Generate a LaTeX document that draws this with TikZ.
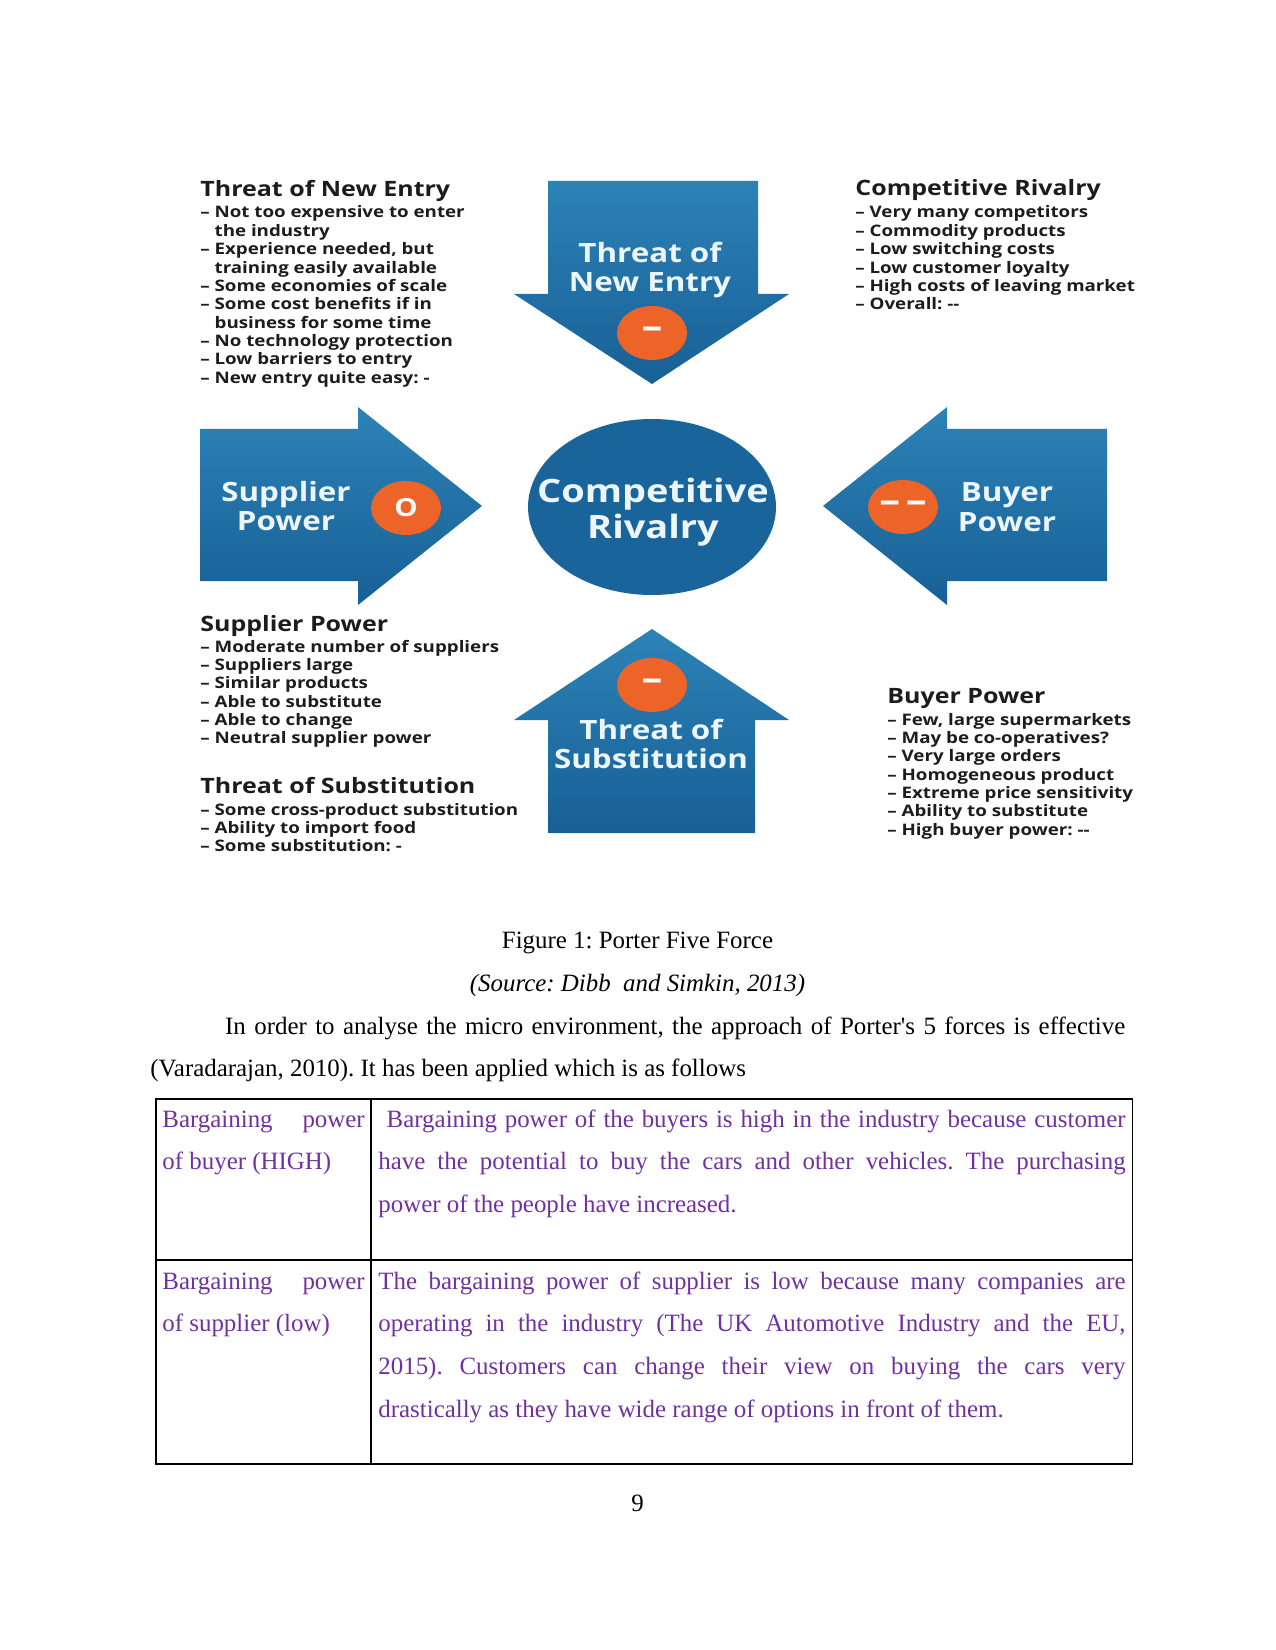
\documentclass[tikz,border=0pt]{standalone}
\usepackage{fontspec}
\setmainfont{Liberation Serif}
\newfontfamily\forcefont{Open Sans}[FakeStretch=1.18]
\usetikzlibrary{shapes.geometric,positioning}

\definecolor{arrowtop}{RGB}{44,130,182}
\definecolor{arrowbot}{RGB}{24,96,150}
\definecolor{rivalblue}{RGB}{26,100,156}
\definecolor{arrowtext}{RGB}{236,245,250}
\definecolor{badgeorange}{RGB}{236,100,40}
\definecolor{listgray}{RGB}{28,28,28}
\definecolor{cellpurple}{RGB}{112,48,160}

\newcommand{\forcelist}[1]{\begin{tabular}[t]{@{}l@{}}#1\end{tabular}}
\newcommand{\aposglyph}{\XeTeXglyph\XeTeXcharglyph"27\relax}

\begin{document}
\frenchspacing
\begin{tikzpicture}[x=0.4818pt,y=-0.4818pt,
    every node/.style={inner sep=0pt},
    forcearrow/.style={top color=arrowtop,bottom color=arrowbot,draw=none},
    arrowlabel/.style={font=\forcefont\bfseries\fontsize{12.8}{14.2}\selectfont,text=arrowtext,align=center},
    badge/.style={ellipse,fill=badgeorange,minimum width=33.7pt,minimum height=26pt,text=white,font=\forcefont\bfseries\fontsize{12}{12}\selectfont},
    dashbadge/.style={badge,font=\forcefont\bfseries\fontsize{17}{17}\selectfont},
    rival/.style={text=arrowtext,align=center,font=\forcefont\bfseries\fontsize{15.5}{17.3}\selectfont},
    listhead/.style={anchor=base west,text=listgray,font=\forcefont\bfseries\fontsize{10.2}{12}\selectfont},
    listbody/.style={anchor=base west,text=listgray,font=\forcefont\bfseries\fontsize{7.65}{8.85}\selectfont},
    pagetext/.style={anchor=base,font=\fontsize{12}{20.7}\selectfont},
    celltext/.style={anchor=base west,text=cellpurple,font=\fontsize{12}{20.7}\selectfont},
]
\useasboundingbox (0,0) rectangle (1275,1650);

% the five forces
\path[forcearrow] (548,181) -- (758,181) -- (758,294) -- (789,294) -- (652,384) -- (514,294) -- (548,294) -- cycle;
\path[forcearrow] (548,833) -- (755,833) -- (755,720) -- (789,720) -- (652,629) -- (514,720) -- (548,720) -- cycle;
\path[forcearrow] (200,429) -- (358,429) -- (358,407) -- (482,506) -- (358,605) -- (358,581) -- (200,581) -- cycle;
\path[forcearrow] (1107,429) -- (947,429) -- (947,407) -- (823,506) -- (947,605) -- (947,581) -- (1107,581) -- cycle;
\fill[rivalblue] (652,507) ellipse [x radius=124, y radius=88];

\node[rival] (rival) at (653,512) {Competitive\\Rivalry};
\node[arrowlabel] (entry) at (650,270) {Threat of\\New Entry};
\node[arrowlabel] (subst) at (651,744) {Threat of\\Substitution};
\node[arrowlabel] (supplier) at (286,506) {Supplier\\Power};
\node[arrowlabel] (buyer) at (1007,507) {Buyer\\Power};

\node[dashbadge] (entrybadge) at (652,333) {–};
\node[dashbadge] (substbadge) at (652,685) {–};
\node[badge] (supplierbadge) at (406,508) {O};
\node[dashbadge] (buyerbadge) at (903,507) {–\,–};

% notes round the forces
\node[listhead] (entryhead) at (200,197) {Threat of New Entry};
\node[listbody] (entrylist) at (200,218) {\forcelist{%
  – Not too expensive to enter\\
  \phantom{– }the industry\\
  – Experience needed, but\\
  \phantom{– }training easily available\\
  – Some economies of scale\\
  – Some cost benefits if in\\
  \phantom{– }business for some time\\
  – No technology protection\\
  – Low barriers to entry\\
  – New entry quite easy: -}};

\node[listhead] (rivalhead) at (855,196) {Competitive Rivalry};
\node[listbody] (rivallist) at (855,218) {\forcelist{%
  – Very many competitors\\
  – Commodity products\\
  – Low switching costs\\
  – Low customer loyalty\\
  – High costs of leaving market\\
  – Overall: -{}-}};

\node[listhead] (supplierhead) at (200,631) {Supplier Power};
\node[listbody] (supplierlist) at (200,652) {\forcelist{%
  – Moderate number of suppliers\\
  – Suppliers large\\
  – Similar products\\
  – Able to substitute\\
  – Able to change\\
  – Neutral supplier power}};

\node[listhead] (substhead) at (200,793) {Threat of Substitution};
\node[listbody] (substlist) at (200,815) {\forcelist{%
  – Some cross-product substitution\\
  – Ability to import food\\
  – Some substitution: -}};

\node[listhead] (buyerhead) at (887,703) {Buyer Power};
\node[listbody] (buyerlist) at (887,725) {\forcelist{%
  – Few, large supermarkets\\
  – May be co-operatives?\\
  – Very large orders\\
  – Homogeneous product\\
  – Extreme price sensitivity\\
  – Ability to substitute\\
  – High buyer power: -{}-}};

% caption and running text
\node[pagetext] (caption) at (637.5,948) {Figure 1: Porter Five Force};
\node[pagetext] (source) at (637.5,991) {\itshape (Source: Dibb\ \ and Simkin, 2013)};
\node[pagetext,anchor=base west] (para) at (150,1034) {\parbox[t]{469.7pt}{\hspace*{36pt}In order to analyse the micro environment, the approach of Porter\aposglyph s 5 forces is effective\linebreak (Varadarajan, 2010). It has been applied which is as follows}};

% table
\draw[line width=0.5pt] (156,1099) rectangle (1132,1464);
\draw[line width=0.5pt] (371,1099) -- (371,1464);
\draw[line width=0.5pt] (156,1260) -- (1132,1260);

\node[celltext] (buyercell) at (162,1127) {\parbox[t]{97.5pt}{Bargaining power\linebreak of buyer (HIGH)}};
\node[celltext] (buyertext) at (378,1127) {\parbox[t]{360pt}{\hspace*{4pt}Bargaining power of the buyers is high in the industry because customer\linebreak have the potential to buy the cars and other vehicles. The purchasing\linebreak power of the people have increased.}};
\node[celltext] (suppliercell) at (162,1289) {\parbox[t]{97.5pt}{Bargaining power\linebreak of supplier (low)}};
\node[celltext] (suppliertext) at (378,1289) {\parbox[t]{360pt}{The bargaining power of supplier is low because many companies are\linebreak operating in the industry (The UK Automotive Industry and the EU,\linebreak 2015). Customers can change their view on buying the cars very\linebreak drastically as they have wide range of options in front of them.}};

\node[pagetext] (pageno) at (637.5,1511) {9};
\end{tikzpicture}
\end{document}
